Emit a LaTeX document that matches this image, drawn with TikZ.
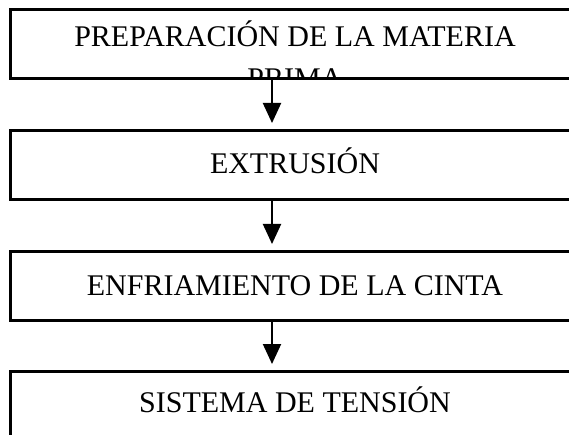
\documentclass[tikz,border=0pt]{standalone}
\usepackage{fontspec}
\setmainfont{Liberation Serif}
\usetikzlibrary{arrows.meta}

\begin{document}
\begin{tikzpicture}[
  x=1pt,
  y=-1pt, % <-- y runs downwards, as in the scan
  >={Triangle[width=18pt,length=20pt]},
  every node/.style={font=\fontsize{30}{42}\selectfont},
  stagebox/.style={draw, line width=2.6pt, anchor=north west, inner sep=0pt,
    minimum width=572pt, minimum height=69pt},
  stagetext/.style={anchor=base, inner sep=0pt, align=center},
  flowarrow/.style={->, line width=2pt, shorten >=6pt}
]
\useasboundingbox (0,0) rectangle (569,435);

% Arrow line
\coordinate (flow) at (272,0);

% --- Stage boxes (right side runs off the page) ---
\node[stagebox] (prep) at (9,8) {};
\node[stagebox] (extr) at (9,129) {};
\node[stagebox] (cool) at (9,250) {};
\node[stagebox, minimum height=90pt] (tens) at (9,370) {};

% --- Labels (second line of the first one is cut by its box) ---
\begin{scope}
  \clip (prep.north west) rectangle (prep.south east);
  \node[stagetext] (preptext) at (295,89) {PREPARACIÓN DE LA MATERIA\\PRIMA};
\end{scope}
\node[stagetext] (extrtext) at (295,174) {EXTRUSIÓN};
\node[stagetext] (cooltext) at (295,295) {ENFRIAMIENTO DE LA CINTA};
\node[stagetext] (tenstext) at (295,412) {SISTEMA DE TENSIÓN};

% --- Arrows ---
\draw[flowarrow] (prep.south -| flow) -- (extr.north -| flow);
\draw[flowarrow] (extr.south -| flow) -- (cool.north -| flow);
\draw[flowarrow] (cool.south -| flow) -- (tens.north -| flow);

\end{tikzpicture}
\end{document}
